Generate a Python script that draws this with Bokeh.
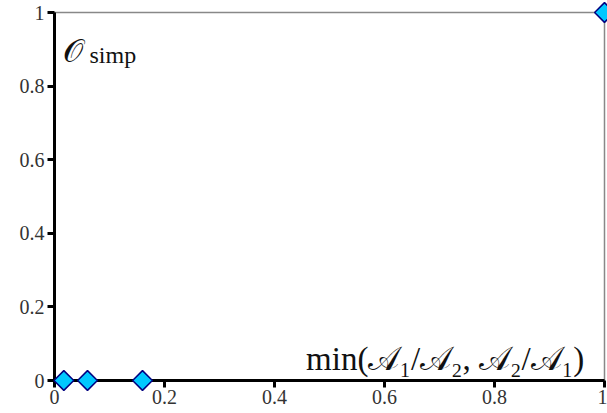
from bokeh.plotting import figure
from bokeh.models import Label, FixedTicker, ColumnDataSource
from bokeh.embed import file_html
from bokeh.resources import INLINE
import math

ratio = [0.017, 0.06, 0.16, 1.0]
overlap = [0.0, 0.0, 0.0, 1.0]
tick_values = [0, 0.2, 0.4, 0.6, 0.8, 1]
tick_labels = ["0", "0.2", "0.4", "0.6", "0.8", "1"]

FONT = "Liberation Serif"

p = figure(width=607, height=413, output_backend="svg", toolbar_location=None,
           x_range=(0, 1), y_range=(0, 1),
           min_border_left=54, min_border_right=3, min_border_top=12, min_border_bottom=33)
p.xgrid.visible = False
p.ygrid.visible = False
p.outline_line_color = "#888888"
p.outline_line_width = 1.5

overrides = {v: l for v, l in zip(tick_values, tick_labels)}
for ax in (p.xaxis[0], p.yaxis[0]):
    ax.ticker = FixedTicker(ticks=tick_values)
    ax.major_label_overrides = overrides
    ax.axis_line_width = 3
    ax.axis_line_color = "black"
    ax.major_tick_line_width = 3
    ax.major_tick_out = 7
    ax.major_tick_in = 0
    ax.minor_tick_line_color = None
    ax.major_label_text_font = FONT
    ax.major_label_text_font_size = "20px"
    ax.major_label_text_color = "#333333"
p.xaxis[0].major_label_standoff = 2
p.yaxis[0].major_label_standoff = 3

src = ColumnDataSource(dict(x=ratio, y=overlap))
r = p.scatter("x", "y", source=src, marker="square", angle=math.pi / 4, size=14,
              fill_color="#00C8FF", line_color="#000080", line_width=1.5)
r.level = "overlay"

p.add_layout(Label(x=8, y=330, x_units="screen", y_units="screen", text="𝒪",
                   text_baseline="alphabetic",
                   text_font=FONT, text_font_size="32px", text_color="#111111"))
p.add_layout(Label(x=35, y=326, x_units="screen", y_units="screen", text="simp",
                   text_baseline="alphabetic",
                   text_font=FONT, text_font_size="24px", text_color="#111111"))
p.add_layout(Label(x=538, y=22, x_units="screen", y_units="screen",
                   text="min(𝒜₁/𝒜₂,  𝒜₂/𝒜₁)", text_align="right",
                   text_baseline="alphabetic",
                   text_font=FONT, text_font_size="33px", text_color="#111111"))

open("out.html", "w").write(file_html(p, INLINE))
